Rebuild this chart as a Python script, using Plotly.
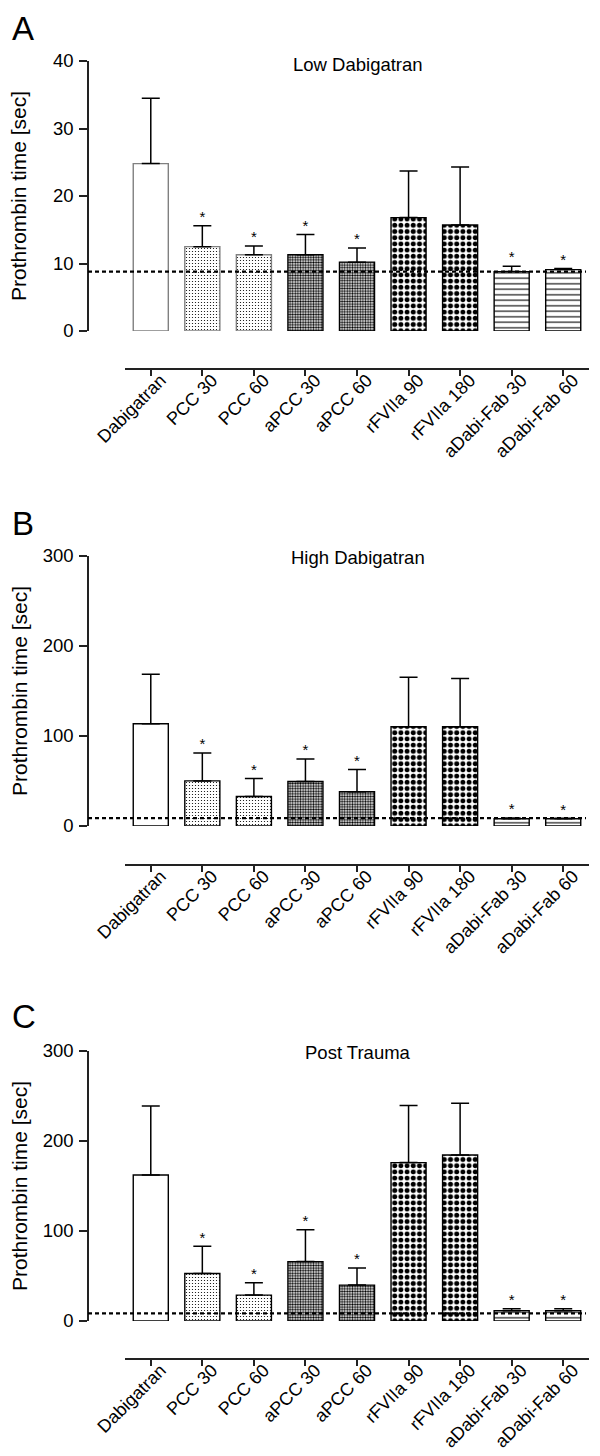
import plotly.graph_objects as go

# ---------------- data ----------------
categories = ["Dabigatran", "PCC 30", "PCC 60", "aPCC 30", "aPCC 60",
              "rFVIIa 90", "rFVIIa 180", "aDabi-Fab 30", "aDabi-Fab 60"]

low_mean = [24.8, 12.5, 11.3, 11.3, 10.2, 16.8, 15.7, 8.8, 9.1]
low_sd = [9.7, 3.1, 1.3, 3.0, 2.1, 6.9, 8.6, 0.8, 0.15]

high_mean = [113.6, 50.1, 32.8, 49.4, 38.0, 110.3, 110.3, 8.1, 8.0]
high_sd = [55.0, 31.0, 19.9, 25.1, 24.7, 55.0, 53.5, 0.9, 0.6]

trauma_mean = [162.3, 52.7, 28.8, 66.0, 39.9, 176.0, 184.5, 11.5, 11.5]
trauma_sd = [76.5, 30.3, 13.6, 35.4, 19.1, 63.5, 57.5, 2.0, 2.0]

baseline = [8.8, 8.8, 8.5]
significant = [False, True, True, True, True, False, False, True, True]

panel_letters = ["A", "B", "C"]
panel_titles = ["Low Dabigatran", "High Dabigatran", "Post Trauma"]
y_ticks = [[0, 10, 20, 30, 40], [0, 100, 200, 300], [0, 100, 200, 300]]
y_titles = ["Prothrombin time [sec]"] * 3

# ---------------- styling ----------------
W, H = 600, 1456
FONT = "Liberation Sans, Arial, Helvetica, sans-serif"
pat_shape = ["", ".", ".", ".", ".", ".", ".", "-", "-"]
pat_size = [8, 3, 3, 2.6, 2.6, 6.2, 6.2, 5.5, 5.5]
pat_solid = [0.1, 0.13, 0.13, 0.5, 0.5, 0.5, 0.5, 0.2, 0.2]
outline_A = ["#808080", "#808080", "#808080"] + ["black"] * 6
outline_BC = ["black"] * 9

plot_top_px = [53, 548, 1043]
plot_h_px = 270
xaxis_px = [361, 857, 1351]
letter_top_px = [0, 495, 988]
title_px = [57, 549, 1044]
yaxis_x_px = 80
x_dom_px = (117, 581)

def py(px):
    return 1 - px / H

fig = go.Figure()
data_sets = [(low_mean, low_sd), (high_mean, high_sd), (trauma_mean, trauma_sd)]

for i, (means, sds) in enumerate(data_sets):
    n = i + 1
    xa = "x" if n == 1 else f"x{n}"
    ya = "y" if n == 1 else f"y{n}"
    fig.add_trace(go.Bar(
        x=categories, y=means, xaxis=xa, yaxis=ya,
        marker=dict(
            color="white",
            line=dict(color=outline_A if i == 0 else outline_BC, width=1.4),
            pattern=dict(shape=pat_shape, size=pat_size, solidity=pat_solid,
                         fgcolor="black", bgcolor="white", fillmode="replace"),
        ),
        error_y=dict(type="data", symmetric=False, array=sds,
                     arrayminus=[0] * len(sds), color="black",
                     thickness=1.5, width=9),
        showlegend=False, hoverinfo="skip",
    ))
    sig_x = [c for c, s in zip(categories, significant) if s]
    sig_y = [m + s for m, s, f in zip(means, sds, significant) if f]
    fig.add_trace(go.Scatter(
        x=sig_x, y=sig_y, xaxis=xa, yaxis=ya, mode="text", text=["*"] * len(sig_x),
        textposition="top center", textfont=dict(size=15, color="black", family=FONT),
        showlegend=False, hoverinfo="skip", cliponaxis=False,
    ))

    top = plot_top_px[i]
    bot = top + plot_h_px
    sfx = "" if n == 1 else str(n)
    fig.update_layout(**{
        f"xaxis{sfx}": dict(
            domain=[x_dom_px[0] / W, x_dom_px[1] / W], anchor="free",
            position=py(xaxis_px[i]), type="category", range=[-0.5, 8.5],
            showline=True, linecolor="#222", linewidth=1.5,
            ticks="outside", ticklen=6, tickwidth=1.5, tickcolor="#222",
            tickangle=-45, tickfont=dict(size=18, color="black", family=FONT),
            ticklabelstandoff=-13, ticklabelshift=10,
            showgrid=False, zeroline=False, automargin=False,
        ),
        f"yaxis{sfx}": dict(
            domain=[py(bot), py(top)], anchor="free", position=yaxis_x_px / W,
            range=[0, y_ticks[i][-1]], tickvals=y_ticks[i],
            showline=True, linecolor="#222", linewidth=1.5,
            ticks="outside", ticklen=8, tickwidth=1.5, tickcolor="#222",
            tickfont=dict(size=18.5, color="black", family=FONT),
            ticklabelstandoff=2,
            showgrid=False, zeroline=False, automargin=False,
        ),
    })
    fig.add_shape(type="line", xref="paper", yref=ya,
                  x0=yaxis_x_px / W, x1=578 / W, y0=baseline[i], y1=baseline[i],
                  line=dict(color="black", width=2.4, dash="4px,3px"), layer="above")
    fig.add_annotation(text=panel_letters[i], xref="paper", yref="paper",
                       x=0.004, y=py(letter_top_px[i]), xanchor="left", yanchor="top",
                       showarrow=False, font=dict(size=33, color="black", family=FONT))
    fig.add_annotation(text=panel_titles[i], xref="paper", yref="paper",
                       x=350 / W, y=py(title_px[i]), xanchor="center", yanchor="middle",
                       showarrow=False, font=dict(size=18.5, color="black", family=FONT))
    fig.add_annotation(text=y_titles[i], xref="paper", yref="paper",
                       x=11 / W, y=py((top + bot) / 2), xanchor="center", yanchor="middle",
                       textangle=-90, showarrow=False,
                       font=dict(size=21, color="black", family=FONT))

fig.update_layout(
    width=W, height=H, margin=dict(l=0, r=0, t=0, b=0),
    paper_bgcolor="white", plot_bgcolor="white",
    bargap=0.32, showlegend=False, font=dict(family=FONT, color="black"),
)

fig.write_html("out.html")
